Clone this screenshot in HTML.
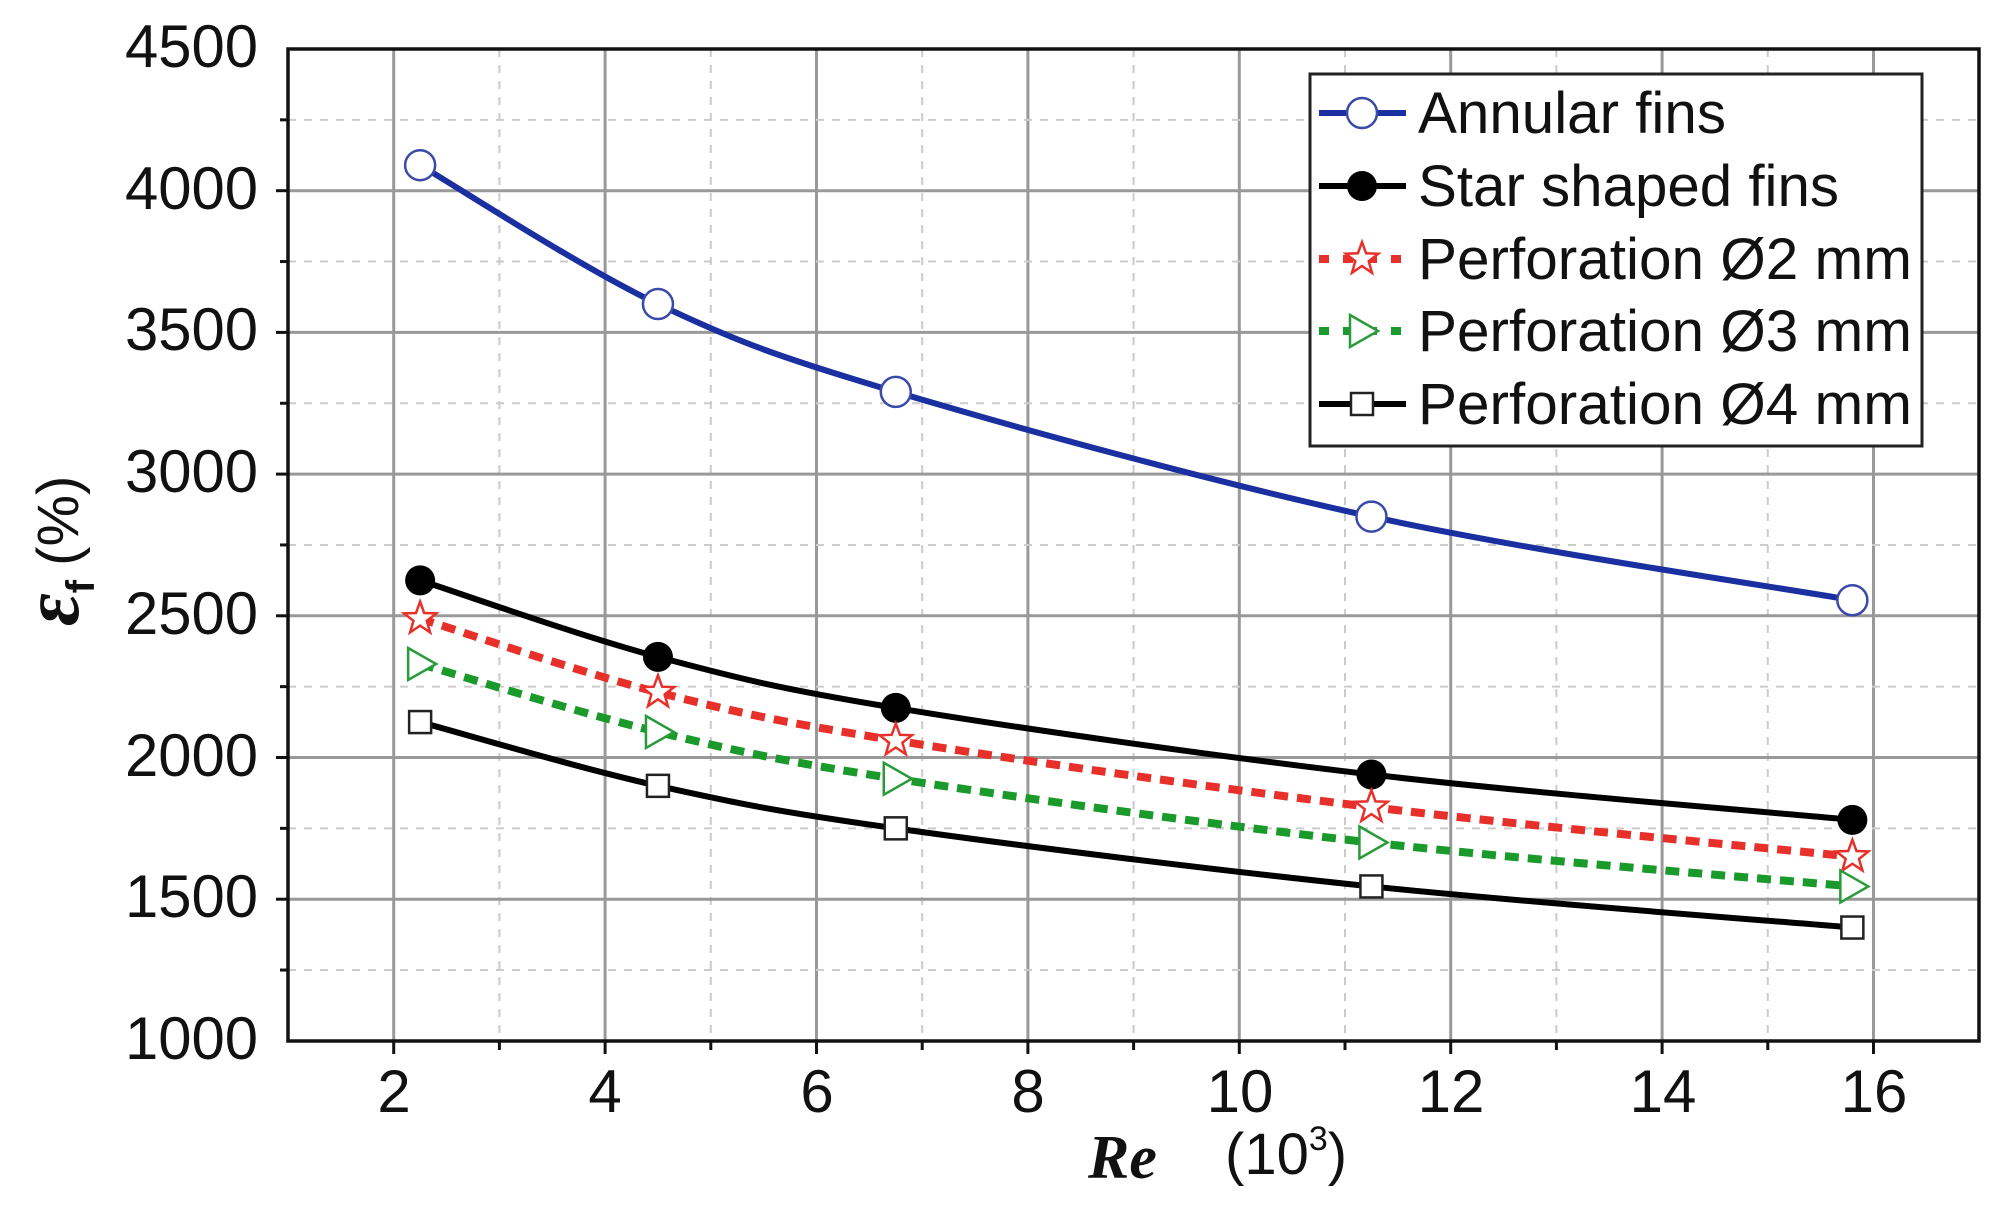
<!DOCTYPE html>
<html><head><meta charset="utf-8"><style>
html,body{margin:0;padding:0;background:#fff;}
svg{display:block;}
text{font-family:"Liberation Sans",sans-serif;fill:#111;}
</style></head><body>
<svg id="s" width="2002" height="1206" viewBox="0 0 2002 1206" xmlns="http://www.w3.org/2000/svg">
<g id="grid"></g>
<g id="series"></g>
<rect x="288" y="49" width="1691" height="992" fill="none" stroke="#111" stroke-width="3.5"/>
<g font-size="60" text-anchor="end">
<text x="258" y="67" textLength="133" lengthAdjust="spacingAndGlyphs">4500</text>
<text x="258" y="209" textLength="133" lengthAdjust="spacingAndGlyphs">4000</text>
<text x="258" y="350" textLength="133" lengthAdjust="spacingAndGlyphs">3500</text>
<text x="258" y="492" textLength="133" lengthAdjust="spacingAndGlyphs">3000</text>
<text x="258" y="634" textLength="133" lengthAdjust="spacingAndGlyphs">2500</text>
<text x="258" y="776" textLength="133" lengthAdjust="spacingAndGlyphs">2000</text>
<text x="258" y="917" textLength="133" lengthAdjust="spacingAndGlyphs">1500</text>
<text x="258" y="1059" textLength="133" lengthAdjust="spacingAndGlyphs">1000</text>
</g>
<g font-size="60" text-anchor="middle">
<text x="394" y="1112">2</text>
<text x="605" y="1112">4</text>
<text x="817" y="1112">6</text>
<text x="1028" y="1112">8</text>
<text x="1240" y="1112">10</text>
<text x="1451" y="1112">12</text>
<text x="1663" y="1112">14</text>
<text x="1874" y="1112">16</text>
</g>
<text x="1088" y="1178" style="font-family:'Liberation Serif',serif;font-weight:bold;font-style:italic" font-size="62">Re</text>
<text x="1225" y="1174" font-size="58">(10<tspan font-size="34" dy="-24">3</tspan><tspan dy="24">)</tspan></text>
<g transform="translate(78,626) rotate(-90)">
<text x="0" y="0" style="font-family:'Liberation Serif',serif;font-weight:bold;font-style:italic" font-size="80">ε<tspan style="font-family:'Liberation Sans',sans-serif;font-style:normal" font-size="40" dy="16">f</tspan><tspan style="font-family:'Liberation Sans',sans-serif;font-style:normal;font-weight:normal" font-size="58" dy="-16" dx="14">(%)</tspan></text>
</g>
<rect x="1310" y="74" width="612" height="372" fill="#fff" stroke="#222" stroke-width="3"/>
<g id="legend"></g>
<g font-size="58">
<text x="1418" y="133" textLength="308" lengthAdjust="spacingAndGlyphs">Annular fins</text>
<text x="1418" y="206" textLength="421" lengthAdjust="spacingAndGlyphs">Star shaped fins</text>
<text x="1418" y="279" textLength="494" lengthAdjust="spacingAndGlyphs">Perforation Ø2 mm</text>
<text x="1418" y="351" textLength="494" lengthAdjust="spacingAndGlyphs">Perforation Ø3 mm</text>
<text x="1418" y="424" textLength="494" lengthAdjust="spacingAndGlyphs">Perforation Ø4 mm</text>
</g>
</svg>
<script>
var NS="http://www.w3.org/2000/svg";
function X(v){return 288+(v-1)*105.7;}
function Y(v){return 49+(4500-v)*0.2834;}
function el(p,tag,a){var e=document.createElementNS(NS,tag);for(var k in a)e.setAttribute(k,a[k]);p.appendChild(e);return e;}
var g=document.getElementById('grid');
for(var v=2;v<=16;v++){var maj=v%2==0;el(g,'line',{x1:X(v),x2:X(v),y1:49,y2:1041,stroke:maj?'#999':'#ccc','stroke-width':maj?3:2,'stroke-dasharray':maj?'':'8,8'});
el(g,'line',{x1:X(v),x2:X(v),y1:1041,y2:maj?1054:1050,stroke:'#111','stroke-width':3});}
for(var v=1250;v<4500;v+=250){var maj=v%500==0;el(g,'line',{x1:288,x2:1979,y1:Y(v),y2:Y(v),stroke:maj?'#999':'#ccc','stroke-width':maj?3:2,'stroke-dasharray':maj?'':'8,8'});
el(g,'line',{x1:maj?276:280,x2:288,y1:Y(v),y2:Y(v),stroke:'#111','stroke-width':3});}
var xs=[2.25,4.5,6.75,11.25,15.8];
var S=[
{d:[4090,3600,3290,2850,2555],c:'#1a2fa0',dash:'',m:'circle'},
{d:[2625,2355,2175,1940,1780],c:'#000',dash:'',m:'dot'},
{d:[2490,2230,2060,1825,1650],c:'#e8302a',dash:'14,9',m:'star'},
{d:[2330,2090,1925,1700,1545],c:'#1a9a2a',dash:'14,9',m:'tri'},
{d:[2125,1900,1750,1545,1400],c:'#000',dash:'',m:'sq'}];
function curve(p){var s='M'+p[0][0]+','+p[0][1];for(var i=0;i<p.length-1;i++){var p0=p[i-1]||p[i],p1=p[i],p2=p[i+1],p3=p[i+2]||p2;
s+=' C'+(p1[0]+(p2[0]-p0[0])/6)+','+(p1[1]+(p2[1]-p0[1])/6)+' '+(p2[0]-(p3[0]-p1[0])/6)+','+(p2[1]-(p3[1]-p1[1])/6)+' '+p2[0]+','+p2[1];}return s;}
function marker(p,m,x,y){
 if(m=='circle')el(p,'circle',{cx:x,cy:y,r:15,fill:'#fff',stroke:'#3a4aa8','stroke-width':2.5});
 else if(m=='dot')el(p,'circle',{cx:x,cy:y,r:15,fill:'#000'});
 else if(m=='star'){var pts=[];for(var i=0;i<10;i++){var r=i%2?7:17,a=-Math.PI/2+i*Math.PI/5;pts.push((x+r*Math.cos(a)).toFixed(1)+','+(y+r*Math.sin(a)).toFixed(1));}
  el(p,'polygon',{points:pts.join(' '),fill:'#fff',stroke:'#e8302a','stroke-width':2.5});}
 else if(m=='tri')el(p,'polygon',{points:(x-12)+','+(y-16)+' '+(x+16)+','+y+' '+(x-12)+','+(y+16),fill:'#fff',stroke:'#2a9a3a','stroke-width':2.5});
 else el(p,'rect',{x:x-11,y:y-11,width:22,height:22,fill:'#fff',stroke:'#222','stroke-width':2.5});
}
var sg=document.getElementById('series'),lg=document.getElementById('legend');
var ly=[113,186,259,331,404];
S.forEach(function(s,k){var p=xs.map(function(x,i){return [X(x),Y(s.d[i])];});
 el(sg,'path',{d:curve(p),fill:'none',stroke:s.c,'stroke-width':s.dash?8:6,'stroke-dasharray':s.dash});
 p.forEach(function(q){marker(sg,s.m,q[0],q[1]);});
 el(lg,'line',{x1:1319,x2:1406,y1:ly[k],y2:ly[k],stroke:s.c,'stroke-width':s.dash?8:6,'stroke-dasharray':s.dash?'10,14':''});
 marker(lg,s.m,1362,ly[k]);
});
</script>
</body></html>
